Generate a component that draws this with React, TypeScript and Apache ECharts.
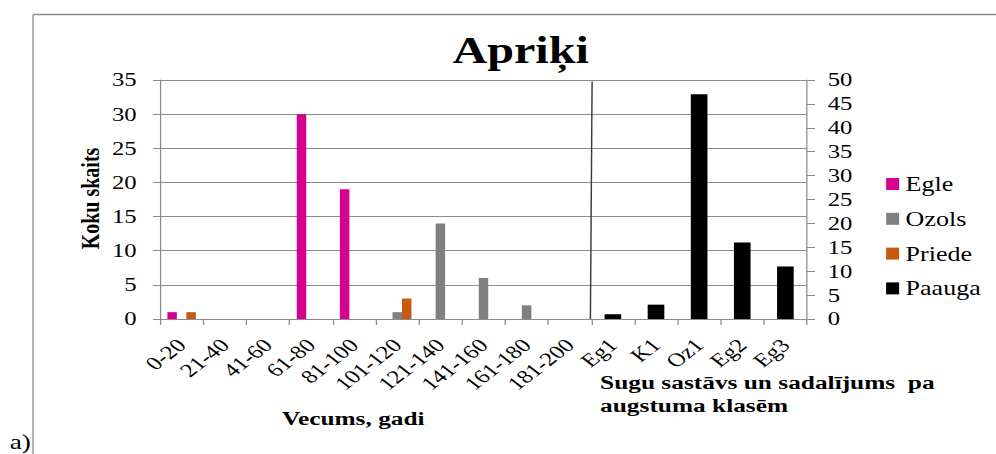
import React, { useEffect, useRef } from "react";
import * as echarts from "echarts";

// ---- data ----
const categories = [
  "0-20", "21-40", "41-60", "61-80", "81-100", "101-120", "121-140", "141-160", "161-180", "181-200",
  "Eg1", "K1", "Oz1", "Eg2", "Eg3",
];
const egle = [1, 0, 0, 30, 19, 0, 0, 0, 0, 0, null, null, null, null, null];
const ozols = [0, 0, 0, 0, 0, 1, 14, 6, 2, 0, null, null, null, null, null];
const priede = [1, 0, 0, 0, 0, 3, 0, 0, 0, 0, null, null, null, null, null];
const paauga = [null, null, null, null, null, null, null, null, null, null, 1, 3, 47, 16, 11];
const seriesNames = ["Egle", "Ozols", "Priede", "Paauga"];
const leftAxis = { min: 0, max: 35, step: 5 };
const rightAxis = { min: 0, max: 50, step: 5 };
const titleText = "Apriķi";
const yName = "Koku skaits";
const xNameAge = "Vecums, gadi";
const xNameClass = "Sugu sastāvs un sadalījums  pa\naugstuma klasēm";
const panelLabel = "a)";

// ---- layout ----
const PAGE_W = 996;
const PAGE_H = 454;
const W = 766;
const SX = PAGE_W / W;
const FONT = "Liberation Serif, Times New Roman, serif";
const GRID = "#8c8c8c";

export default function App() {
  const ref = useRef<HTMLDivElement>(null);

  useEffect(() => {
    if (!ref.current) return;
    const chart = echarts.init(ref.current, undefined, { renderer: "svg", width: W, height: PAGE_H });

    const axisLabelStyle = { fontFamily: FONT, fontSize: 19, color: "#000" };

    chart.setOption({
      animation: false,
      backgroundColor: "#ffffff",
      textStyle: { fontFamily: FONT },
      title: {
        text: titleText,
        left: 348,
        top: 30,
        padding: 0,
        textStyle: { fontFamily: FONT, fontSize: 37, fontWeight: "bold", color: "#000", lineHeight: 40 },
      },
      legend: {
        data: seriesNames,
        orient: "vertical",
        left: 681.5,
        top: 173.5,
        padding: 0,
        itemWidth: 10,
        itemHeight: 12,
        itemGap: 13.8,
        icon: "rect",
        textStyle: { fontFamily: FONT, fontSize: 20, color: "#000", lineHeight: 21 },
      },
      grid: { left: 123.1, right: 145.4, top: 80, bottom: 135 },
      xAxis: [
        {
          type: "category",
          data: categories,
          axisLine: { lineStyle: { color: GRID, width: 1 } },
          axisTick: { show: true, length: 6, lineStyle: { color: GRID } },
          axisLabel: { ...axisLabelStyle, rotate: 45, interval: 0, margin: 23 },
          splitLine: { show: false },
        },
        {
          type: "category",
          data: categories,
          show: false,
        },
      ],
      yAxis: [
        {
          type: "value",
          min: leftAxis.min,
          max: leftAxis.max,
          interval: leftAxis.step,
          axisLine: { show: true, lineStyle: { color: GRID } },
          axisTick: { show: true, length: 5.4, lineStyle: { color: GRID } },
          axisLabel: { ...axisLabelStyle, margin: 18 },
          splitLine: { show: true, lineStyle: { color: GRID, width: 1 } },
        },
        {
          type: "value",
          position: "right",
          min: rightAxis.min,
          max: rightAxis.max,
          interval: rightAxis.step,
          axisLine: { show: true, lineStyle: { color: GRID } },
          axisTick: { show: true, length: 6.2, lineStyle: { color: GRID } },
          axisLabel: { ...axisLabelStyle, margin: 16 },
          splitLine: { show: false },
        },
      ],
      series: [
        { name: "Egle", type: "bar", data: egle, xAxisIndex: 0, yAxisIndex: 0, barWidth: 7.3, barGap: "0%", itemStyle: { color: "#D6008F" } },
        { name: "Ozols", type: "bar", data: ozols, xAxisIndex: 0, yAxisIndex: 0, barWidth: 7.3, barGap: "0%", itemStyle: { color: "#808080" } },
        { name: "Priede", type: "bar", data: priede, xAxisIndex: 0, yAxisIndex: 0, barWidth: 7.3, barGap: "0%", itemStyle: { color: "#C55A11" } },
        { name: "Paauga", type: "bar", data: paauga, xAxisIndex: 1, yAxisIndex: 1, barWidth: 12.8, itemStyle: { color: "#000000" } },
      ],
    });

    // separator between the two category groups, located from the axis
    const cA = chart.convertToPixel({ xAxisIndex: 0 }, 9) as number;
    const cB = chart.convertToPixel({ xAxisIndex: 0 }, 10) as number;
    const bx = (cA + cB) / 2;
    const yTop = chart.convertToPixel({ yAxisIndex: 0 }, leftAxis.max) as number;
    const yBot = chart.convertToPixel({ yAxisIndex: 0 }, leftAxis.min) as number;

    const txt = (extra: any) => ({ fill: "#000", fontFamily: FONT, ...extra });

    chart.setOption({
      graphic: [
        { type: "line", shape: { x1: 25.4, y1: 14.5, x2: W, y2: 14.5 }, style: { stroke: "#8a8a8a", lineWidth: 1.3 } },
        { type: "line", shape: { x1: 25.4, y1: 14.5, x2: 25.4, y2: PAGE_H }, style: { stroke: "#8a8a8a", lineWidth: 1 } },
        { type: "line", shape: { x1: bx + 0.6, y1: yTop + 1.5, x2: bx - 0.7, y2: yBot }, style: { stroke: "#3a3a3a", lineWidth: 1.1 } },
        {
          type: "text",
          x: 69.4,
          y: 198.5,
          rotation: Math.PI / 2,
          style: txt({ text: yName, fontSize: 20, fontWeight: "bold", align: "center", textAlign: "center", verticalAlign: "middle", textVerticalAlign: "middle" }),
        },
        {
          type: "text",
          x: 271.7,
          y: 418.4,
          style: txt({ text: xNameAge, fontSize: 19.5, fontWeight: "bold", align: "center", textAlign: "center", verticalAlign: "middle", textVerticalAlign: "middle" }),
        },
        {
          type: "text",
          x: 461.5,
          y: 394,
          style: txt({ text: xNameClass, fontSize: 19.5, fontWeight: "bold", lineHeight: 22.4, align: "left", textAlign: "left", verticalAlign: "middle", textVerticalAlign: "middle" }),
        },
        {
          type: "text",
          x: 7.5,
          y: 442,
          style: txt({ text: panelLabel, fontSize: 21, align: "left", textAlign: "left", verticalAlign: "middle", textVerticalAlign: "middle" }),
        },
      ],
    });

    return () => chart.dispose();
  }, []);

  return (
    <div style={{ position: "absolute", left: 0, top: 0, width: PAGE_W, height: PAGE_H, overflow: "hidden", background: "#fff" }}>
      <div
        ref={ref}
        style={{ width: W, height: PAGE_H, transform: `scaleX(${SX})`, transformOrigin: "0 0" }}
      />
    </div>
  );
}
